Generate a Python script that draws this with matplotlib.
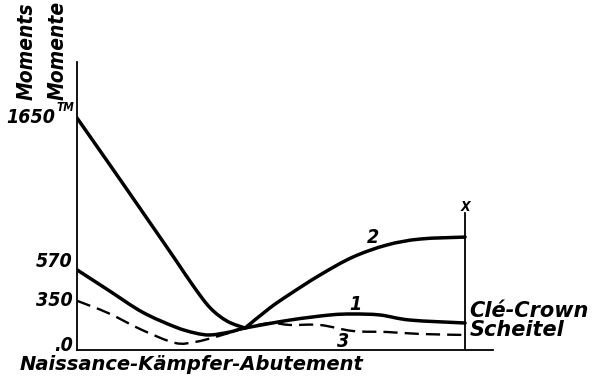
import matplotlib
matplotlib.use("Agg")
import matplotlib.pyplot as plt
from matplotlib import transforms
from matplotlib.path import Path
from matplotlib.patches import PathPatch
import numpy as np

# ---- data ----
# x: relative position from springing (0) to crown (1)
x2 = [0.0, 0.080, 0.168, 0.253, 0.299, 0.343, 0.387, 0.433, 0.497, 0.549, 0.626, 0.711, 0.799, 0.884, 1.0]
m2 = [1650, 1335, 985, 645, 458, 300, 205, 156, 299, 398, 533, 661, 747, 789, 803]
cusp_index = 7  # sharp corner of curve 2

x1 = [0.0, 0.080, 0.168, 0.253, 0.304, 0.343, 0.394, 0.433, 0.549, 0.652, 0.711, 0.781, 0.858, 1.0]
m1 = [570, 427, 270, 164, 121, 107, 128, 156, 213, 249, 256, 249, 213, 192]

x3 = [0.0, 0.080, 0.168, 0.253, 0.304, 0.356, 0.407, 0.433, 0.497, 0.549, 0.626, 0.711, 0.799, 0.884, 1.0]
m3 = [350, 263, 142, 50, 57, 92, 135, 156, 192, 178, 178, 135, 128, 114, 107]

tick_values = [0, 350, 570, 1650]
tick_labels = [".0", "350", "570", "1650"]
curve_names = ["1", "2", "3"]

FONT = dict(family="DejaVu Sans", style="italic", weight="bold")
FONTC = dict(FONT, stretch="condensed")


def smooth(xs, ys):
    P = np.column_stack([xs, ys]).astype(float)
    n = len(P)
    verts = [P[0]]
    codes = [Path.MOVETO]
    for i in range(n - 1):
        p0 = P[i - 1] if i > 0 else P[i]
        p1, p2 = P[i], P[i + 1]
        p3 = P[i + 2] if i + 2 < n else P[i + 1]
        verts += [p1 + (p2 - p0) / 6, p2 - (p3 - p1) / 6, p2]
        codes += [Path.CURVE4] * 3
    return Path(verts, codes)


fig = plt.figure(figsize=(5.98, 3.81), dpi=100)
ax = fig.add_axes([77/598, 31/381, 416/598, 288/381])
ax.set_xlim(0, 1.072)
ax.set_ylim(0, 2048)
for s in ["top", "right"]:
    ax.spines[s].set_visible(False)
for s in ["left", "bottom"]:
    ax.spines[s].set_linewidth(1.3)
    ax.spines[s].set_color("black")
ax.set_xticks([])
ax.set_yticks([])

ax.add_patch(PathPatch(smooth(x3, m3), fill=False, color="black", lw=1.7,
                       linestyle=(0, (6, 3))))
ax.add_patch(PathPatch(smooth(x1, m1), fill=False, color="black", lw=2.5, capstyle="round"))
ax.add_patch(PathPatch(smooth(x2[:cusp_index + 1], m2[:cusp_index + 1]), fill=False,
                       color="black", lw=2.5, capstyle="round"))
ax.add_patch(PathPatch(smooth(x2[cusp_index:], m2[cusp_index:]), fill=False,
                       color="black", lw=2.5, capstyle="round"))

# crown vertical line with mark
ax.plot([1.0, 1.0], [0, 975], color="black", lw=1.3)
ax.text(1.0, 1015, "X", ha="center", va="center", fontsize=10, **FONTC)

# y labels
offs = {0: 3, 350: 0, 570: 6, 1650: 0}
xoffs = {0: -3, 350: -3, 570: -3, 1650: -16}
for v, lab in zip(tick_values, tick_labels):
    tr = ax.get_yaxis_transform() + transforms.ScaledTranslation(xoffs[v]/72, offs[v]/72, fig.dpi_scale_trans)
    ax.text(0, v, lab, transform=tr, ha="right", va="center", fontsize=14, **FONTC)
ax.text(0.0, 1650, "TM", transform=ax.get_yaxis_transform() + transforms.ScaledTranslation(-15/72, 2.5/72, fig.dpi_scale_trans),
        ha="left", va="bottom", fontsize=8.5, **FONTC)

# curve labels
ax.text(0.763, 797, curve_names[1], ha="center", va="center", fontsize=14, **FONTC)
ax.text(0.717, 320, curve_names[0], ha="center", va="center", fontsize=14, **FONTC)
ax.text(0.686, 57, curve_names[2], ha="center", va="center", fontsize=14, **FONTC)

# end labels
ax.text(1.012, 277, "Clé-Crown", ha="left", va="center", fontsize=15, clip_on=False, **FONT)
ax.text(1.012, 142, "Scheitel", ha="left", va="center", fontsize=15, clip_on=False, **FONT)

# axis titles
fig.text(20/598, 1 - 364/381, "Naissance-Kämpfer-Abutement", ha="left", va="center", fontsize=14, **FONT)
fig.text(27/598, 1 - 51/381, "Moments", rotation=90, ha="center", va="center", fontsize=15, **FONTC)
fig.text(58/598, 1 - 50/381, "Momente", rotation=90, ha="center", va="center", fontsize=15, **FONTC)

fig.savefig("out.png", dpi=100)
